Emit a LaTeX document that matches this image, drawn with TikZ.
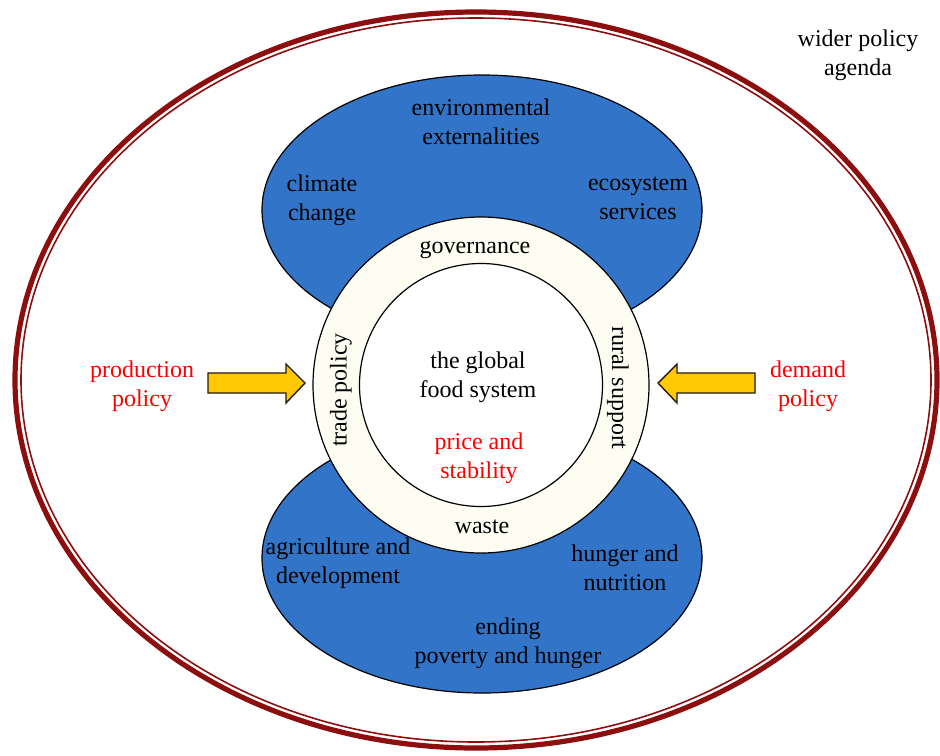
\documentclass[tikz,border=0pt]{standalone}
\usepackage{fontspec}
\setmainfont{Liberation Serif}
\definecolor{agendared}{RGB}{140,14,14}
\definecolor{blobblue}{RGB}{50,116,200}
\definecolor{ringivory}{RGB}{253,253,242}
\definecolor{arrowgold}{RGB}{255,200,0}

\tikzset{
    label/.style={align=center, font=\fontsize{12}{14.5}\selectfont},
    redlabel/.style={label, text=red},
    blob/.style={draw=black, line width=0.6pt, fill=blobblue},
    policyarrow/.style={draw=black!80!brown, line width=0.7pt, fill=arrowgold, line join=miter}
}

\begin{document}
\begin{tikzpicture}[x=0.5pt, y=-0.5pt]
    \useasboundingbox (0, 0) rectangle (940, 755);

    % wider policy agenda
    \draw[agendared, line width=2.6pt] (476, 380) ellipse (461 and 368);
    \draw[agendared, line width=0.8pt] (476, 380) ellipse (455 and 362);

    % the two blobs
    \draw[blob] (482, 210) ellipse (220 and 135);
    \draw[blob] (482, 558) ellipse (220 and 135);

    % ring and core
    \draw[fill=ringivory, line width=0.6pt] (481, 385) circle (168);
    \draw[fill=white, line width=0.6pt] (481, 385) circle (121.5);

    % arrows
    \draw[policyarrow] (208, 373) -- (286, 373) -- (286, 364) -- (305, 383)
        -- (286, 403) -- (286, 393) -- (208, 393) -- cycle;
    \draw[policyarrow] (755, 373) -- (677, 373) -- (677, 364) -- (658, 383)
        -- (677, 403) -- (677, 393) -- (755, 393) -- cycle;

    \node[label] (wider) at (858, 55) {wider policy\\agenda};
    \node[label] (envext) at (481, 122) {environmental\\externalities};
    \node[label] (climate) at (322, 200) {climate\\change};
    \node[label] (ecosys) at (638, 198) {ecosystem\\services};

    \node[label] (gov) at (475, 250) {governance};
    \node[label, rotate=90] (trade) at (341, 390) {trade policy};
    \node[label, rotate=-90] (rural) at (618, 388) {rural support};
    \node[label] (waste) at (482, 527) {waste};

    \node[label] (core) at (478, 377) {the global\\food system};
    \node[redlabel] (price) at (479, 458) {price and\\stability};

    \node[redlabel] (prodpol) at (142, 386) {production\\policy};
    \node[redlabel] (dempol) at (808, 386) {demand\\policy};

    \node[label] (agri) at (338, 563) {agriculture and\\development};
    \node[label] (hunger) at (625, 568) {hunger and\\nutrition};
    \node[label] (ending) at (508, 643) {ending\\poverty and hunger};
\end{tikzpicture}
\end{document}
